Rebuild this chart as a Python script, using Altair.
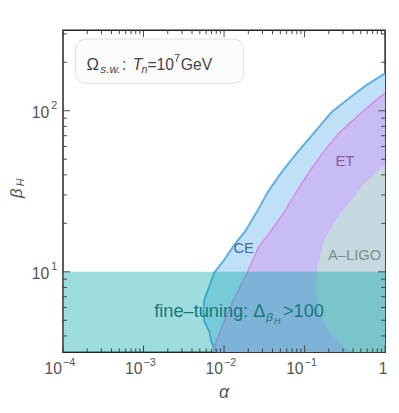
import altair as alt
import pandas as pd

W, H = 328, 328

# axis ranges / tick labels
x_domain = [1e-4, 1.0]
y_domain = [10 ** 0.5, 10 ** 2.5]
x_decades = [1e-4, 1e-3, 1e-2, 1e-1, 1.0]
x_exps = ["−4", "−3", "−2", "−1", ""]
y_decades = [10.0, 100.0]
y_exps = ["1", "2"]

# CE sensitivity boundary (alpha, beta_H), from the right edge downwards
ce_alpha = [1.0, 0.586, 0.334, 0.213, 0.1324, 0.0822, 0.0525, 0.0354, 0.026, 0.01853, 0.01324, 0.01,
            0.00755, 0.00656, 0.0057, 0.00554, 0.0057, 0.00656, 0.00693, 0.00755, 0.00845]
ce_beta = [170.6, 144.3, 116.7, 97.2, 73.5, 55.5, 41.9, 31.6, 23.9, 18.0, 14.6, 11.83,
           9.86, 8.11, 6.75, 5.62, 4.89, 4.25, 3.69, 3.34, 3.1623]

# ET boundary
et_alpha = [1.0, 0.656, 0.407, 0.252, 0.161, 0.1089, 0.0798, 0.057, 0.0385, 0.0267, 0.0196, 0.01324,
            0.01, 0.00798, 0.00734]
et_beta = [128.8, 108.8, 88.1, 70.5, 53.2, 40.2, 31.6, 23.9, 18.0, 14.2, 10.0, 6.75,
           4.89, 3.69, 3.1623]

# A-LIGO boundary
al_alpha = [1.0, 0.54, 0.374, 0.252, 0.175, 0.144, 0.14, 0.152, 0.19, 0.245, 0.308, 0.407]
al_beta = [46.2, 34.9, 27.5, 21.6, 15.7, 10.7, 7.76, 5.62, 4.43, 3.85, 3.44, 3.1623]

# fine-tuning band
fine_alpha = [1e-4, 1.0]
fine_beta = [10 ** 0.5, 10.0]

# in-plot labels (data coordinates)
lab_text = ["CE", "ET", "A–LIGO"]
lab_alpha = [0.0175, 0.316, 0.419]
lab_beta = [14.0, 48.9, 12.7]
fine_anchor_alpha = [1.36e-3]
fine_anchor_beta = [5.24]

FONT = "Liberation Sans"
xs = alt.Scale(type="log", domain=x_domain, nice=False)
ys = alt.Scale(type="log", domain=y_domain, nice=False)


def rdf(alpha, beta):
    return pd.DataFrame({"a": alpha, "b": beta, "r": [x_domain[1]] * len(alpha),
                         "i": list(range(len(alpha)))})


def area(alpha, beta, fill, stroke=None):
    kw = dict(orient="horizontal", color=fill, opacity=1, clip=True)
    if stroke:
        kw.update(stroke=stroke, strokeWidth=0.8)
    return alt.Chart(rdf(alpha, beta)).mark_area(**kw).encode(
        y=alt.Y("b:Q", scale=ys, axis=None),
        x=alt.X("a:Q", scale=xs, axis=None),
        x2="r:Q",
    )


def bline(alpha, beta, color, sw):
    return alt.Chart(rdf(alpha, beta)).mark_line(color=color, strokeWidth=sw, clip=True).encode(
        x=alt.X("a:Q", scale=xs, axis=None),
        y=alt.Y("b:Q", scale=ys, axis=None),
        order=alt.Order("i:Q"),
    )


layers = [
    area(ce_alpha, ce_beta, "#c0e0f7"),
    area(et_alpha, et_beta, "#c8bcf4"),
    area(al_alpha, al_beta, "#c6d9e0"),
    bline(ce_alpha, ce_beta, "#5eafe3", 2),
    bline(et_alpha, et_beta, "#dc8ae8", 1.5),
]

band = pd.DataFrame({"x": [fine_alpha[0]], "x2": [fine_alpha[1]], "y": [fine_beta[0]], "y2": [fine_beta[1]]})
layers.append(
    alt.Chart(band).mark_rect(color="#00a5a5", opacity=0.38, clip=True).encode(
        x=alt.X("x:Q", scale=xs, axis=None), x2="x2:Q",
        y=alt.Y("y:Q", scale=ys, axis=None), y2="y2:Q",
    )
)

# ticks (inward, on all four sides)
x_minor = [d * k for d in x_decades[:-1] for k in range(2, 10)]
y_all_dec = [1.0] + y_decades
y_minor = [d * k for d in y_all_dec for k in range(2, 10) if y_domain[0] <= d * k <= y_domain[1]]
TC = "#444"


def xticks(vals, ln):
    df = pd.DataFrame({"v": vals})
    out = []
    for y0, y1 in [(H, H - ln), (0, ln)]:
        out.append(alt.Chart(df).mark_rule(color=TC, strokeWidth=1).encode(
            x=alt.X("v:Q", scale=xs, axis=None), y=alt.value(y0), y2=alt.value(y1)))
    return out


def yticks(vals, ln):
    df = pd.DataFrame({"v": vals})
    out = []
    for x0, x1 in [(0, ln), (W, W - ln)]:
        out.append(alt.Chart(df).mark_rule(color=TC, strokeWidth=1).encode(
            y=alt.Y("v:Q", scale=ys, axis=None), x=alt.value(x0), x2=alt.value(x1)))
    return out


layers += xticks(x_decades, 7) + xticks(x_minor, 4) + yticks(y_decades, 7) + yticks(y_minor, 4)

LC = "#555"
xl = pd.DataFrame({"v": x_decades, "e": x_exps})
layers.append(alt.Chart(xl).transform_filter("datum.e != ''").mark_text(
    align="right", baseline="alphabetic", fontSize=16, font=FONT, color=LC, dx=-1).encode(
    x=alt.X("v:Q", scale=xs, axis=None), y=alt.value(H + 22), text=alt.value("10")))
layers.append(alt.Chart(xl).transform_filter("datum.e != ''").mark_text(
    align="left", baseline="alphabetic", fontSize=11, font=FONT, color=LC, dx=0).encode(
    x=alt.X("v:Q", scale=xs, axis=None), y=alt.value(H + 14), text="e:N"))
layers.append(alt.Chart(xl).transform_filter("datum.e == ''").mark_text(
    align="center", baseline="alphabetic", fontSize=16, font=FONT, color=LC, dx=-2).encode(
    x=alt.X("v:Q", scale=xs, axis=None), y=alt.value(H + 22), text=alt.value("1")))

yl = pd.DataFrame({"v": y_decades, "e": y_exps})
layers.append(alt.Chart(yl).mark_text(
    align="right", baseline="middle", fontSize=16, font=FONT, color=LC, dy=2).encode(
    y=alt.Y("v:Q", scale=ys, axis=None), x=alt.value(-14), text=alt.value("10")))
layers.append(alt.Chart(yl).mark_text(
    align="left", baseline="middle", fontSize=11, font=FONT, color=LC, dy=-5).encode(
    y=alt.Y("v:Q", scale=ys, axis=None), x=alt.value(-12), text="e:N"))


def txt(t, x, y, size=16, color=LC, style="normal", align="left", angle=None):
    kw = dict(align=align, baseline="alphabetic", fontSize=size, font=FONT, fontStyle=style, color=color)
    if angle is not None:
        kw["angle"] = angle
    return alt.Chart(pd.DataFrame({"t": [t]})).mark_text(**kw).encode(
        text="t:N", x=alt.value(x), y=alt.value(y))


# axis titles
layers.append(txt("α", 164, 375, size=18, style="italic", align="center"))
layers.append(txt("β", -42, 166, size=17, style="italic", align="center", angle=270))
layers.append(txt("H", -40, 155, size=11, style="italic", align="center", angle=270))

# legend box
layers.append(alt.Chart(pd.DataFrame({"t": [0]})).mark_rect(
    fill="#fcfcfc", stroke="#dedede", strokeWidth=1, cornerRadius=10).encode(
    x=alt.value(13), x2=alt.value(184), y=alt.value(9), y2=alt.value(54)))
LG = "#444"
layers += [
    txt("Ω", 24, 40, 17, LG),
    txt("s.w.", 38, 44, 12, LG, "italic"),
    txt(":", 60, 40, 16, LG),
    txt("T", 71, 40, 16, LG, "italic"),
    txt("n", 80, 44, 11, LG, "italic"),
    txt("=10", 86, 40, 16, LG),
    txt("7", 113, 32, 11, LG),
    txt("GeV", 120, 40, 16, LG),
]

# region labels
lab_colors = ["#46699a", "#8a5a9e", "#7f8e8a"]
for t, a, b, c in zip(lab_text, lab_alpha, lab_beta, lab_colors):
    layers.append(alt.Chart(pd.DataFrame({"a": [a], "b": [b], "t": [t]})).mark_text(
        align="center", baseline="middle", fontSize=15, font=FONT, color=c).encode(
        x=alt.X("a:Q", scale=xs, axis=None), y=alt.Y("b:Q", scale=ys, axis=None), text="t:N"))

FT = "#157b7b"
fa = pd.DataFrame({"a": fine_anchor_alpha, "b": fine_anchor_beta})


def fpiece(t, dx, dy, size, style="normal"):
    return alt.Chart(fa).mark_text(align="left", baseline="alphabetic", fontSize=size, font=FONT,
                                   fontStyle=style, color=FT, dx=dx, dy=dy).encode(
        x=alt.X("a:Q", scale=xs, axis=None), y=alt.Y("b:Q", scale=ys, axis=None), text=alt.value(t))


layers += [
    fpiece("fine–tuning: Δ", 0, 0, 18.5),
    fpiece("β", 114, 4, 12, "italic"),
    fpiece("H", 122, 7, 9, "italic"),
    fpiece(">100", 131, 0, 18.5),
]

chart = alt.layer(*layers).properties(
    width=W, height=H,
    autosize=alt.AutoSizeParams(type="none"),
    padding={"left": 56, "top": 19, "right": 6, "bottom": 50},
).configure_view(stroke="#222", strokeWidth=1.5)

chart.save("out.html", embed_options={"renderer": "svg", "actions": False})
